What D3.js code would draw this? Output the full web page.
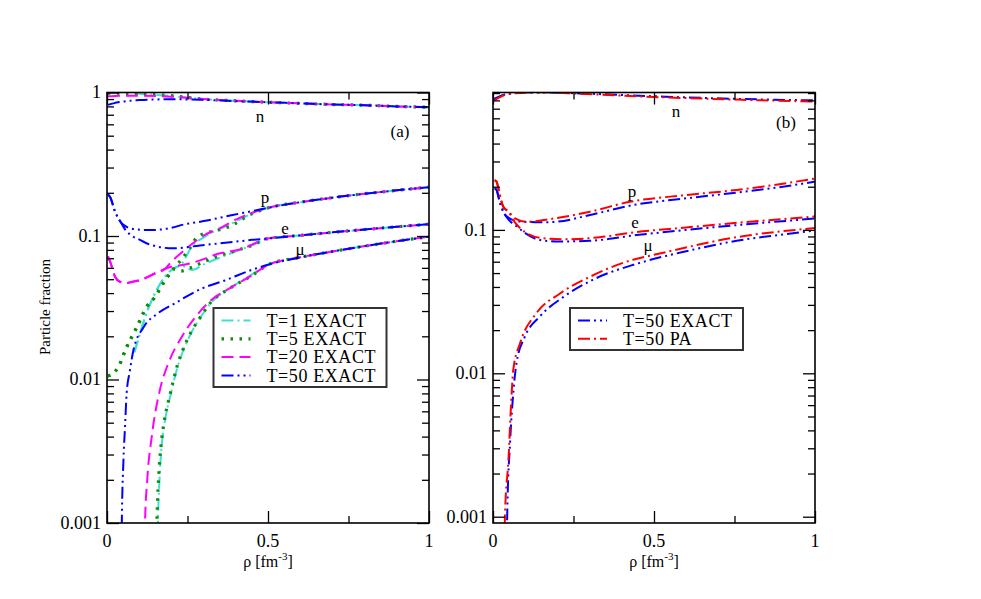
<!DOCTYPE html>
<html>
<head>
<meta charset="utf-8">
<script src="https://cdn.jsdelivr.net/npm/d3@7"></script>
<style>
  body { margin: 0; background: #fff; }
</style>
</head>
<body>
<div id="chart"></div>
<script>
// ---- data: [rho (fm^-3), particle fraction] ----
// shared high-density tails (all temperatures converge there)
const tailN  = [[0.5,0.855],[0.6,0.84],[0.7,0.825],[0.8,0.815],[0.9,0.80],[1.0,0.79]];
const tailP  = [[0.5,0.157],[0.6,0.172],[0.7,0.185],[0.8,0.197],[0.9,0.208],[1.0,0.219]];
const tailE  = [[0.5,0.096],[0.6,0.101],[0.7,0.106],[0.8,0.111],[0.9,0.116],[1.0,0.121]];
const tailMu = [[0.5,0.063],[0.6,0.071],[0.7,0.078],[0.8,0.085],[0.9,0.092],[1.0,0.099]];

// T=1 EXACT
const t1_n  = [[0.085,0.985],[0.2,0.945],[0.3,0.9],[0.4,0.875]];
const t1_p  = [[0.085,0.0155],[0.1,0.02],[0.118,0.027],[0.159,0.044],[0.2,0.058],[0.232,0.064],[0.263,0.084],[0.304,0.099],[0.377,0.119],[0.45,0.143]];
const t1_e  = [[0.085,0.0155],[0.1,0.02],[0.118,0.027],[0.159,0.044],[0.2,0.058],[0.232,0.062],[0.263,0.058],[0.304,0.064],[0.387,0.076],[0.45,0.086]];
const t1_mu = [[0.156,0.0006],[0.158,0.001],[0.163,0.002],[0.17,0.0035],[0.179,0.005],[0.198,0.0079],[0.219,0.0122],[0.25,0.0187],[0.29,0.027],[0.322,0.034],[0.38,0.043],[0.45,0.054]];

// T=5 EXACT
const t5_n  = [[0.003,0.99],[0.1,0.98],[0.2,0.95],[0.3,0.9],[0.4,0.875]];
const t5_p  = [[0.003,0.0106],[0.01,0.0107],[0.035,0.0122],[0.061,0.0168],[0.092,0.023],[0.123,0.032],[0.149,0.0376],[0.175,0.047],[0.196,0.055],[0.211,0.061],[0.23,0.068],[0.253,0.08],[0.284,0.1],[0.346,0.11],[0.382,0.117],[0.45,0.143]];
const t5_e  = [[0.003,0.0106],[0.01,0.0107],[0.035,0.0122],[0.061,0.0168],[0.092,0.023],[0.123,0.032],[0.149,0.0376],[0.175,0.047],[0.196,0.055],[0.211,0.059],[0.23,0.057],[0.26,0.06],[0.3,0.066],[0.35,0.073],[0.4,0.079],[0.45,0.086]];
const t5_mu = [[0.153,0.0006],[0.155,0.001],[0.16,0.002],[0.168,0.0035],[0.177,0.005],[0.196,0.0079],[0.217,0.0122],[0.248,0.0187],[0.289,0.027],[0.32,0.034],[0.38,0.043],[0.45,0.053]];

// T=20 EXACT
const t20_n  = [[0.003,0.94],[0.05,0.95],[0.1,0.95],[0.2,0.935],[0.3,0.9],[0.4,0.875]];
const t20_p  = [[0.003,0.072],[0.01,0.066],[0.025,0.052],[0.04,0.048],[0.06,0.047],[0.08,0.048],[0.1,0.049],[0.15,0.055],[0.18,0.059],[0.2,0.066],[0.253,0.084],[0.304,0.102],[0.356,0.115],[0.4,0.13],[0.45,0.145]];
const t20_e  = [[0.003,0.072],[0.01,0.066],[0.025,0.052],[0.04,0.048],[0.06,0.047],[0.08,0.048],[0.1,0.049],[0.15,0.055],[0.18,0.059],[0.2,0.061],[0.253,0.064],[0.3,0.069],[0.335,0.074],[0.43,0.083],[0.45,0.087]];
const t20_mu = [[0.116,0.0006],[0.118,0.001],[0.125,0.002],[0.139,0.004],[0.165,0.0086],[0.19,0.0129],[0.232,0.0198],[0.273,0.027],[0.325,0.036],[0.387,0.044],[0.449,0.053]];

// T=50 EXACT (left panel)
const t50_n  = [[0.003,0.82],[0.02,0.84],[0.05,0.865],[0.1,0.885],[0.15,0.895],[0.2,0.897],[0.3,0.888],[0.4,0.87]];
const t50_p  = [[0.003,0.195],[0.01,0.186],[0.025,0.148],[0.05,0.12],[0.082,0.112],[0.134,0.11],[0.2,0.114],[0.237,0.12],[0.3,0.127],[0.39,0.14],[0.45,0.149]];
const t50_e  = [[0.003,0.195],[0.01,0.186],[0.025,0.148],[0.04,0.128],[0.055,0.112],[0.075,0.101],[0.102,0.094],[0.134,0.087],[0.206,0.082],[0.289,0.086],[0.413,0.092],[0.45,0.094]];
const t50_mu = [[0.045,0.0006],[0.046,0.001],[0.051,0.0027],[0.056,0.0047],[0.061,0.008],[0.071,0.0115],[0.082,0.016],[0.113,0.023],[0.159,0.029],[0.211,0.034],[0.294,0.043],[0.366,0.049],[0.449,0.058]];

// right panel, T=50 EXACT vs PA
const ex_n  = [[0.003,0.82],[0.03,0.87],[0.06,0.895],[0.1,0.91],[0.2,0.905],[0.3,0.89],[0.5,0.855],[0.75,0.82],[1.0,0.80]];
const ex_p  = [[0.005,0.195],[0.011,0.19],[0.02,0.16],[0.032,0.134],[0.05,0.121],[0.07,0.116],[0.094,0.114],[0.15,0.113],[0.198,0.114],[0.301,0.127],[0.435,0.149],[0.6,0.166],[0.757,0.182],[0.9,0.2],[1.0,0.217]];
const ex_e  = [[0.005,0.195],[0.011,0.19],[0.02,0.16],[0.032,0.134],[0.05,0.117],[0.073,0.106],[0.1,0.095],[0.146,0.085],[0.198,0.083],[0.301,0.084],[0.446,0.092],[0.6,0.1],[0.757,0.108],[1.0,0.12]];
const ex_mu = [[0.043,0.0006],[0.044,0.001],[0.053,0.0033],[0.063,0.0073],[0.073,0.0118],[0.099,0.018],[0.146,0.025],[0.218,0.034],[0.32,0.046],[0.446,0.058],[0.6,0.071],[0.757,0.084],[0.9,0.093],[1.0,0.099]];

const pa_n  = [[0.003,0.80],[0.03,0.86],[0.063,0.895],[0.15,0.91],[0.27,0.89],[0.5,0.845],[0.757,0.81],[1.0,0.785]];
const pa_p  = [[0.005,0.222],[0.011,0.217],[0.02,0.18],[0.032,0.145],[0.048,0.134],[0.07,0.12],[0.104,0.114],[0.198,0.121],[0.301,0.134],[0.425,0.157],[0.6,0.175],[0.757,0.19],[0.9,0.21],[1.0,0.228]];
const pa_e  = [[0.005,0.222],[0.011,0.217],[0.02,0.18],[0.032,0.145],[0.048,0.134],[0.065,0.115],[0.084,0.103],[0.146,0.088],[0.228,0.086],[0.332,0.089],[0.435,0.096],[0.6,0.104],[0.757,0.112],[1.0,0.124]];
const pa_mu = [[0.036,0.0006],[0.037,0.001],[0.048,0.0025],[0.058,0.0073],[0.063,0.0106],[0.084,0.0162],[0.135,0.0263],[0.208,0.036],[0.3,0.047],[0.435,0.062],[0.5,0.067],[0.757,0.089],[1.0,0.103]];

// tick labels
const xTicks = [0, 0.5, 1];
const xTickLabels = ["0", "0.5", "1"];
const xMinor = [0.25, 0.75];
const yTicks = [0.001, 0.01, 0.1, 1];
const yTickLabels = ["0.001", "0.01", "0.1", "1"];

// series styles
const styles = {
  t1:  { color: "#40e0d0", dash: "12,4,2,4", width: 2, label: "T=1 EXACT" },
  t5:  { color: "#0a8f0a", dash: "2.5,6.5", width: 3.2, label: "T=5 EXACT" },
  t20: { color: "#ff00ff", dash: "12,6", width: 2, label: "T=20 EXACT" },
  t50: { color: "#0000ff", dash: "12,4,2,4,2,4", width: 2, label: "T=50 EXACT" },
  pa:  { color: "#ff0000", dash: "12,4,2,4", width: 2, label: "T=50 PA" }
};

const serif = "Liberation Serif, DejaVu Serif, serif";
const W = 981, H = 599;
const svg = d3.select("#chart").append("svg")
  .attr("width", W).attr("height", H);

const plotTop = 92.5, plotBottom = 523;

const txt = (sel, size) => sel
  .attr("font-family", serif)
  .attr("font-size", size)
  .attr("fill", "#000");

const drawPanel = (cfg) => {
  const x = d3.scaleLinear().domain([0, 1]).range([cfg.left, cfg.right]);
  const y = d3.scaleLog().domain(cfg.yDomain).range([plotBottom, plotTop]);
  const g = svg.append("g");

  g.append("clipPath").attr("id", cfg.id + "clip")
    .append("rect")
      .attr("x", cfg.left).attr("y", plotTop)
      .attr("width", cfg.right - cfg.left).attr("height", plotBottom - plotTop);

  const line = d3.line()
    .x(d => x(d[0]))
    .y(d => y(d[1]))
    .curve(d3.curveMonotoneX);

  g.append("g").attr("clip-path", `url(#${cfg.id}clip)`)
    .selectAll("path")
    .data(cfg.series)
    .enter()
    .append("path")
      .attr("d", d => line(d.values))
      .attr("fill", "none")
      .attr("stroke", d => styles[d.key].color)
      .attr("stroke-width", d => styles[d.key].width)
      .attr("stroke-dasharray", d => styles[d.key].dash);

  // ticks, pointing inward on all four sides
  const yMajor = yTicks.filter(v => v >= cfg.yDomain[0] && v <= cfg.yDomain[1]);
  const yMinor = [];
  [0.001, 0.01, 0.1].forEach(dec => {
    for (let k = 2; k <= 9; k++) {
      const v = k * dec;
      if (v >= cfg.yDomain[0] && v <= cfg.yDomain[1]) yMinor.push(v);
    }
  });

  const tickGroup = (axis, tf) => {
    const a = g.append("g").attr("transform", tf).call(axis);
    a.select(".domain").remove();
    a.selectAll("line").attr("stroke", "#000").attr("stroke-width", 1.3);
    return a;
  };

  tickGroup(d3.axisBottom(x).tickValues(xTicks).tickSize(-12).tickFormat(""), `translate(0,${plotBottom})`);
  tickGroup(d3.axisBottom(x).tickValues(xMinor).tickSize(-7).tickFormat(""), `translate(0,${plotBottom})`);
  tickGroup(d3.axisTop(x).tickValues(xTicks).tickSize(-12).tickFormat(""), `translate(0,${plotTop})`);
  tickGroup(d3.axisTop(x).tickValues(xMinor).tickSize(-7).tickFormat(""), `translate(0,${plotTop})`);
  tickGroup(d3.axisLeft(y).tickValues(yMajor).tickSize(-12).tickFormat(""), `translate(${cfg.left},0)`);
  tickGroup(d3.axisLeft(y).tickValues(yMinor).tickSize(-7).tickFormat(""), `translate(${cfg.left},0)`);
  tickGroup(d3.axisRight(y).tickValues(yMajor).tickSize(-12).tickFormat(""), `translate(${cfg.right},0)`);
  tickGroup(d3.axisRight(y).tickValues(yMinor).tickSize(-7).tickFormat(""), `translate(${cfg.right},0)`);

  // frame
  g.append("rect")
    .attr("x", cfg.left).attr("y", plotTop)
    .attr("width", cfg.right - cfg.left).attr("height", plotBottom - plotTop)
    .attr("fill", "none").attr("stroke", "#000").attr("stroke-width", 1.6);

  // tick labels
  g.selectAll(".xl").data(xTicks).enter().append("text")
    .call(txt, 18)
    .attr("x", d => x(d)).attr("y", plotBottom + 24)
    .attr("text-anchor", "middle")
    .text((d, i) => xTickLabels[i]);

  g.selectAll(".yl").data(yMajor).enter().append("text")
    .call(txt, 18)
    .attr("x", cfg.left - 6).attr("y", d => y(d))
    .attr("dy", "0.33em")
    .attr("text-anchor", "end")
    .text(d => yTickLabels[yTicks.indexOf(d)]);

  // x axis label
  const xl = g.append("text")
    .call(txt, 16)
    .attr("x", (cfg.left + cfg.right) / 2).attr("y", 567)
    .attr("text-anchor", "middle");
  xl.append("tspan").text("ρ [fm");
  xl.append("tspan").attr("dy", -7).attr("font-size", 11).text("-3");
  xl.append("tspan").attr("dy", 7).text("]");

  // curve labels
  g.selectAll(".cl").data(cfg.curveLabels).enter().append("text")
    .call(txt, 17)
    .attr("x", d => d.x).attr("y", d => d.y)
    .attr("text-anchor", "middle")
    .attr("dy", "0.33em")
    .text(d => d.t);

  // legend
  const lg = g.append("g");
  lg.append("rect")
    .attr("x", cfg.legend.x).attr("y", cfg.legend.y)
    .attr("width", cfg.legend.w).attr("height", cfg.legend.h)
    .attr("fill", "#fff").attr("stroke", "#333").attr("stroke-width", 2);
  cfg.legend.keys.forEach((k, i) => {
    const ly = cfg.legend.y + 12.5 + i * 18.3;
    lg.append("line")
      .attr("x1", cfg.legend.x + 8).attr("x2", cfg.legend.x + 37)
      .attr("y1", ly).attr("y2", ly)
      .attr("stroke", styles[k].color)
      .attr("stroke-width", styles[k].width)
      .attr("stroke-dasharray", styles[k].dash);
    lg.append("text")
      .call(txt, 18)
      .attr("letter-spacing", 0.6)
      .attr("x", cfg.legend.x + 53).attr("y", ly)
      .attr("dy", "0.34em")
      .text(styles[k].label);
  });
};

drawPanel({
  id: "a", left: 107, right: 429, yDomain: [0.001, 1],
  series: [
    { key: "t1", values: t1_n.concat(tailN) }, { key: "t1", values: t1_p.concat(tailP) },
    { key: "t1", values: t1_e.concat(tailE) }, { key: "t1", values: t1_mu.concat(tailMu) },
    { key: "t5", values: t5_n.concat(tailN) }, { key: "t5", values: t5_p.concat(tailP) },
    { key: "t5", values: t5_e.concat(tailE) }, { key: "t5", values: t5_mu.concat(tailMu) },
    { key: "t20", values: t20_n.concat(tailN) }, { key: "t20", values: t20_p.concat(tailP) },
    { key: "t20", values: t20_e.concat(tailE) }, { key: "t20", values: t20_mu.concat(tailMu) },
    { key: "t50", values: t50_n.concat(tailN) }, { key: "t50", values: t50_p.concat(tailP) },
    { key: "t50", values: t50_e.concat(tailE) }, { key: "t50", values: t50_mu.concat(tailMu) }
  ],
  curveLabels: [
    { t: "n", x: 260, y: 116 }, { t: "(a)", x: 400, y: 131 },
    { t: "p", x: 265, y: 197 }, { t: "e", x: 285, y: 228 }, { t: "μ", x: 300, y: 249 }
  ],
  legend: { x: 213.5, y: 308, w: 173, h: 79, keys: ["t1", "t5", "t20", "t50"] }
});

drawPanel({
  id: "b", left: 493, right: 815, yDomain: [0.000904, 0.908],
  series: [
    { key: "t50", values: ex_n }, { key: "t50", values: ex_p },
    { key: "t50", values: ex_e }, { key: "t50", values: ex_mu },
    { key: "pa", values: pa_n }, { key: "pa", values: pa_p },
    { key: "pa", values: pa_e }, { key: "pa", values: pa_mu }
  ],
  curveLabels: [
    { t: "n", x: 676, y: 111 }, { t: "(b)", x: 786, y: 122 },
    { t: "p", x: 632, y: 191 }, { t: "e", x: 635, y: 222 }, { t: "μ", x: 648, y: 245 }
  ],
  legend: { x: 570, y: 308, w: 173, h: 42, keys: ["t50", "pa"] }
});

// y axis title
svg.append("text")
  .call(txt, 15)
  .attr("transform", "translate(50,307) rotate(-90)")
  .attr("text-anchor", "middle")
  .text("Particle fraction");
</script>
</body>
</html>
